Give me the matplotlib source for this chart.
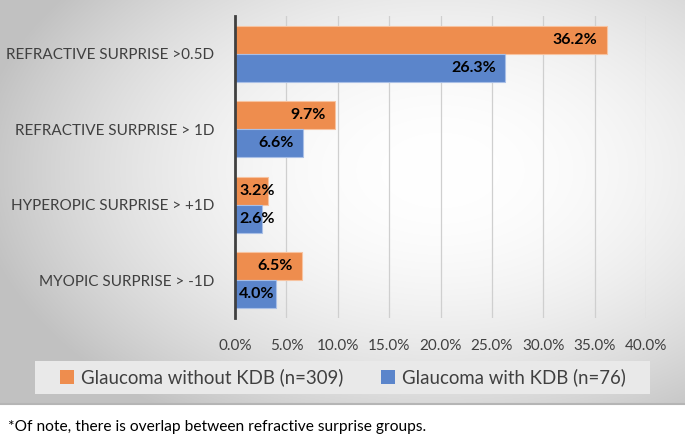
import numpy as np
import matplotlib
matplotlib.use("Agg")
import matplotlib.pyplot as plt
from matplotlib.patches import Rectangle

categories = ["REFRACTIVE SURPRISE >0.5D", "REFRACTIVE SURPRISE > 1D",
              "HYPEROPIC SURPRISE > +1D", "MYOPIC SURPRISE > -1D"]
without_kdb = [36.2, 9.7, 3.2, 6.5]
with_kdb = [26.3, 6.6, 2.6, 4.0]
series_names = ["Glaucoma without KDB (n=309)", "Glaucoma with KDB (n=76)"]
xticks = [0, 5, 10, 15, 20, 25, 30, 35, 40]
footnote = "*Of note, there is overlap between refractive surprise groups."

ORANGE = "#EE8D4E"
BLUE = "#5B85CB"
FONT = "Lato"
plt.rcParams["font.family"] = [FONT, "DejaVu Sans"]

W, H = 685, 438
fig = plt.figure(figsize=(W / 100, H / 100), dpi=100)
fig.patch.set_facecolor("white")

# gradient panel
panel_h = 403
bg = fig.add_axes([0, 1 - panel_h / H, 1, panel_h / H], zorder=-5)
yy, xx = np.mgrid[0:panel_h, 0:W]
r2 = ((xx - 440) / 520.0) ** 2 + ((yy - 170) / 330.0) ** 2
val = np.clip(1.0 - 0.30 * r2, 0.76, 1.0)
img = np.dstack([val, val, val])
bg.imshow(img, aspect="auto", interpolation="bilinear")
bg.set_axis_off()
fig.add_artist(plt.Line2D([0, 1], [1 - 404 / H, 1 - 404 / H], transform=fig.transFigure,
                          color="#b5b5b5", lw=1.5, zorder=-4))

# main axes
left, right, top, bottom = 235, 646, 16, 318
ax = fig.add_axes([left / W, 1 - bottom / H, (right - left) / W, (bottom - top) / H])
ax.set_facecolor("none")

n = len(categories)
y = np.arange(n)
h = 0.37
b1 = ax.barh(y - h / 2, without_kdb, height=h, color=ORANGE, edgecolor="#F7C3A0",
             linewidth=0.8, label=series_names[0], zorder=3)
b2 = ax.barh(y + h / 2, with_kdb, height=h, color=BLUE, edgecolor="#A9BFE6",
             linewidth=0.8, label=series_names[1], zorder=3)
ax.set_ylim(n - 0.5, -0.5)
ax.set_xlim(0, 40)
ax.set_xticks(xticks)
ax.set_xticklabels([f"{t:.1f}%" for t in xticks], fontsize=11, color="#404040")
ax.set_yticks(y)
ax.set_yticklabels(categories, fontsize=11, color="#404040")
ax.tick_params(axis="both", length=0)
ax.tick_params(axis="y", pad=15)
ax.tick_params(axis="x", pad=15)
ax.grid(axis="x", color="#cfcfcf", lw=0.9, zorder=0)
for s in ["top", "right", "bottom"]:
    ax.spines[s].set_visible(False)
ax.spines["left"].set_color("#404040")
ax.spines["left"].set_linewidth(2)
ax.spines["left"].set_zorder(4)

for vals, offs in [(without_kdb, -h / 2), (with_kdb, h / 2)]:
    for i, v in enumerate(vals):
        if v - 1.0 < 4.0:
            ax.text(0.4, i + offs, f"{v:.1f}%", ha="left", va="center",
                    fontsize=11.5, fontweight="bold", color="black", zorder=5)
        else:
            ax.text(v - 0.9, i + offs, f"{v:.1f}%", ha="right", va="center",
                    fontsize=11.5, fontweight="bold", color="black", zorder=5)

# legend box
fig.add_artist(Rectangle((35 / W, 1 - 394 / H), 615 / W, 33 / H, transform=fig.transFigure,
                         facecolor="#e9e9e9", edgecolor="none", zorder=1))
leg = fig.legend(handles=[b1, b2], labels=series_names, loc="center",
                 bbox_to_anchor=(343 / W, 1 - 377.5 / H), ncol=2, frameon=False,
                 fontsize=13.4, handlelength=0.75, handleheight=0.75, handletextpad=0.4,
                 columnspacing=2.0, labelcolor="#404040")
for hdl in leg.legend_handles:
    hdl.set_edgecolor("none")

fig.text(8 / W, 1 - 427 / H, footnote, fontsize=11.2, ha="left", va="center", color="black")

fig.savefig("out.png", dpi=100)
